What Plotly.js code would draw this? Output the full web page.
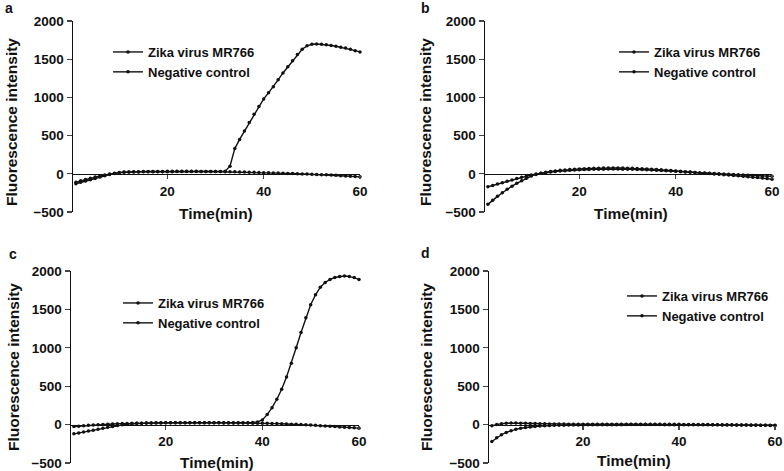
<!DOCTYPE html>
<html>
<head>
<meta charset="utf-8">
<script src="https://cdn.plot.ly/plotly-3.0.1.min.js"></script>
<style>
  body { margin: 0; background: #fff; }
  #plot { width: 784px; height: 471px; }
</style>
</head>
<body>
<div id="plot"></div>
<script>
// time points (min)
var time = [1,2,3,4,5,6,7,8,9,10,11,12,13,14,15,16,17,18,19,20,21,22,23,24,25,26,27,28,29,30,
            31,32,33,34,35,36,37,38,39,40,41,42,43,44,45,46,47,48,49,50,51,52,53,54,55,56,57,58,59,60];

var seriesNames = ["Zika virus MR766", "Negative control"];
var panelLetters = ["a", "b", "c", "d"];
var xTicks = [20, 40, 60];
var yTicks = [-500, 0, 500, 1000, 1500, 2000];

// panel a
var zikaA = [-130,-112,-95,-78,-60,-42,-25,-10,5,15,20,22,24,25,26,26,27,27,28,28,28,29,29,29,30,30,30,30,31,31,
             31,35,100,330,450,560,670,780,880,980,1060,1140,1230,1320,1400,1480,1560,1630,1675,1695,1698,1695,1688,1680,1670,1658,1645,1630,1612,1595];
var negA = [-110,-92,-75,-58,-42,-28,-15,-3,8,16,22,25,27,28,29,30,30,31,31,32,32,32,32,32,32,32,31,31,30,30,
            29,28,27,26,25,23,21,19,17,15,13,11,9,7,5,3,1,-1,-3,-5,-8,-11,-14,-17,-20,-24,-28,-32,-36,-40];

// panel b
var zikaB = [-400,-345,-295,-248,-203,-162,-125,-90,-58,-30,-8,8,20,30,38,45,51,56,60,64,67,70,72,74,75,76,76,76,75,74,
             72,70,67,64,60,56,52,47,42,37,32,27,22,17,12,7,3,-2,-7,-12,-17,-22,-27,-32,-38,-44,-50,-56,-62,-70];
var negB = [-170,-152,-134,-116,-98,-80,-63,-46,-30,-16,-4,6,15,23,30,36,41,45,49,52,55,57,59,60,61,62,62,62,61,60,
            59,57,55,53,50,47,44,40,36,32,28,24,20,16,12,9,6,3,0,-3,-6,-9,-12,-15,-18,-21,-24,-27,-30,-33];

// panel c
var zikaC = [-120,-108,-96,-84,-72,-60,-48,-36,-24,-12,-2,6,12,16,19,21,22,23,24,24,25,25,25,25,25,25,25,24,24,24,
             24,23,23,23,23,24,25,28,35,60,130,220,330,460,620,800,1000,1200,1390,1560,1690,1790,1850,1890,1915,1930,1935,1930,1915,1890];
var negC = [-25,-20,-15,-10,-6,-2,2,5,8,11,13,15,17,18,19,20,21,22,22,23,23,23,24,24,24,24,24,24,23,23,
            23,22,22,21,21,20,20,19,18,18,17,15,13,11,9,6,3,0,-3,-6,-10,-14,-18,-22,-26,-30,-34,-38,-42,-46];

// panel d
var zikaD = [-220,-170,-132,-102,-80,-62,-48,-38,-30,-24,-19,-15,-12,-10,-8,-7,-6,-5,-4,-4,-3,-3,-2,-2,-2,-1,-1,-1,0,0,
             0,0,0,0,0,0,-1,-1,-1,-1,-2,-2,-2,-2,-3,-3,-3,-3,-4,-4,-4,-5,-5,-5,-6,-6,-7,-7,-8,-8];
var negD = [-15,2,12,18,20,20,19,17,15,13,11,10,9,8,7,7,6,6,6,5,5,5,5,5,5,5,5,5,5,5,
            5,5,5,4,4,4,4,3,3,3,2,2,1,1,0,0,-1,-1,-2,-3,-3,-4,-5,-6,-7,-8,-9,-10,-11,-12];

var panelData = [[zikaA, negA], [zikaB, negB], [zikaC, negC], [zikaD, negD]];

// pixel boxes of each plot area (left, right, top, bottom) -> paper fractions
var W = 784, H = 471;
var boxes = [[73, 360, 21, 212], [485, 772, 21, 212], [71, 359, 271, 463], [489, 775, 271, 463]];
var legendPos = [[108, 37], [614, 37], [118, 288], [622, 281]];
var xTitlePos = [[216, 213], [631, 213], [217, 462], [634, 460]];
var yTitlePos = [[12, 122], [426, 122], [13, 367], [426, 367]];
var letterPos = [[9, 8], [425, 8], [13, 254], [425, 253]];

var fam = "Liberation Sans, Arial, sans-serif";
var bold = {family: fam, size: 13.5, color: "#111", weight: "bold"};

var data = [];
var layout = {
    width: W,
    height: H,
    margin: {l: 0, r: 0, t: 0, b: 0},
    paper_bgcolor: "#fff",
    plot_bgcolor: "#fff",
    font: {family: fam, color: "#111"},
    annotations: []
};

function label(txt, pos, size, angle) {
    return {
        text: txt, xref: "paper", yref: "paper", showarrow: false,
        xanchor: "center", yanchor: "middle", textangle: angle,
        x: pos[0] / W, y: 1 - pos[1] / H,
        font: {family: fam, size: size, color: "#111", weight: "bold"}
    };
}

for (var p = 0; p < 4; p++) {
    var b = boxes[p];
    var xd = [b[0] / W, b[1] / W];
    var yd = [1 - b[3] / H, 1 - b[2] / H];
    var n = p == 0 ? "" : String(p + 1);
    var legName = p == 0 ? "legend" : "legend" + n;

    for (var s = 0; s < 2; s++) {
        data.push({
            x: time,
            y: panelData[p][s],
            name: seriesNames[s],
            type: "scatter",
            mode: "lines+markers",
            line: {color: "#111", width: 1.4},
            marker: {color: "#111", size: 3.5, symbol: "circle"},
            xaxis: "x" + n,
            yaxis: "y" + n,
            legend: legName,
            cliponaxis: false
        });
    }

    // x axis sits on y = 0, like the Prism original
    layout["xaxis" + n] = {
        domain: xd,
        range: [0.4, 60],
        anchor: "free",
        position: yd[0] + (500 / 2500) * (yd[1] - yd[0]),
        tickvals: xTicks,
        ticks: "outside",
        ticklen: 4,
        tickwidth: 1.3,
        showline: true,
        linewidth: 1.5,
        linecolor: "#111",
        showgrid: false,
        zeroline: false,
        tickfont: bold
    };
    layout["yaxis" + n] = {
        domain: yd,
        range: [-500, 2000],
        anchor: "x" + n,
        tickvals: yTicks,
        ticks: "outside",
        ticklen: 5,
        tickwidth: 1.3,
        showline: true,
        linewidth: 1.5,
        linecolor: "#111",
        showgrid: false,
        zeroline: false,
        tickfont: bold
    };
    layout[legName] = {
        x: legendPos[p][0] / W,
        y: 1 - legendPos[p][1] / H,
        xanchor: "left",
        yanchor: "top",
        bgcolor: "rgba(0,0,0,0)",
        itemwidth: 30,
        font: {family: fam, size: 13, color: "#111", weight: "bold"}
    };

    layout.annotations.push(label("Time(min)", xTitlePos[p], 15.5, 0));
    layout.annotations.push(label("Fluorescence intensity", yTitlePos[p], 15.5, -90));
    layout.annotations.push(label(panelLetters[p], letterPos[p], 14, 0));
}

Plotly.newPlot("plot", data, layout, {staticPlot: true});
</script>
</body>
</html>
